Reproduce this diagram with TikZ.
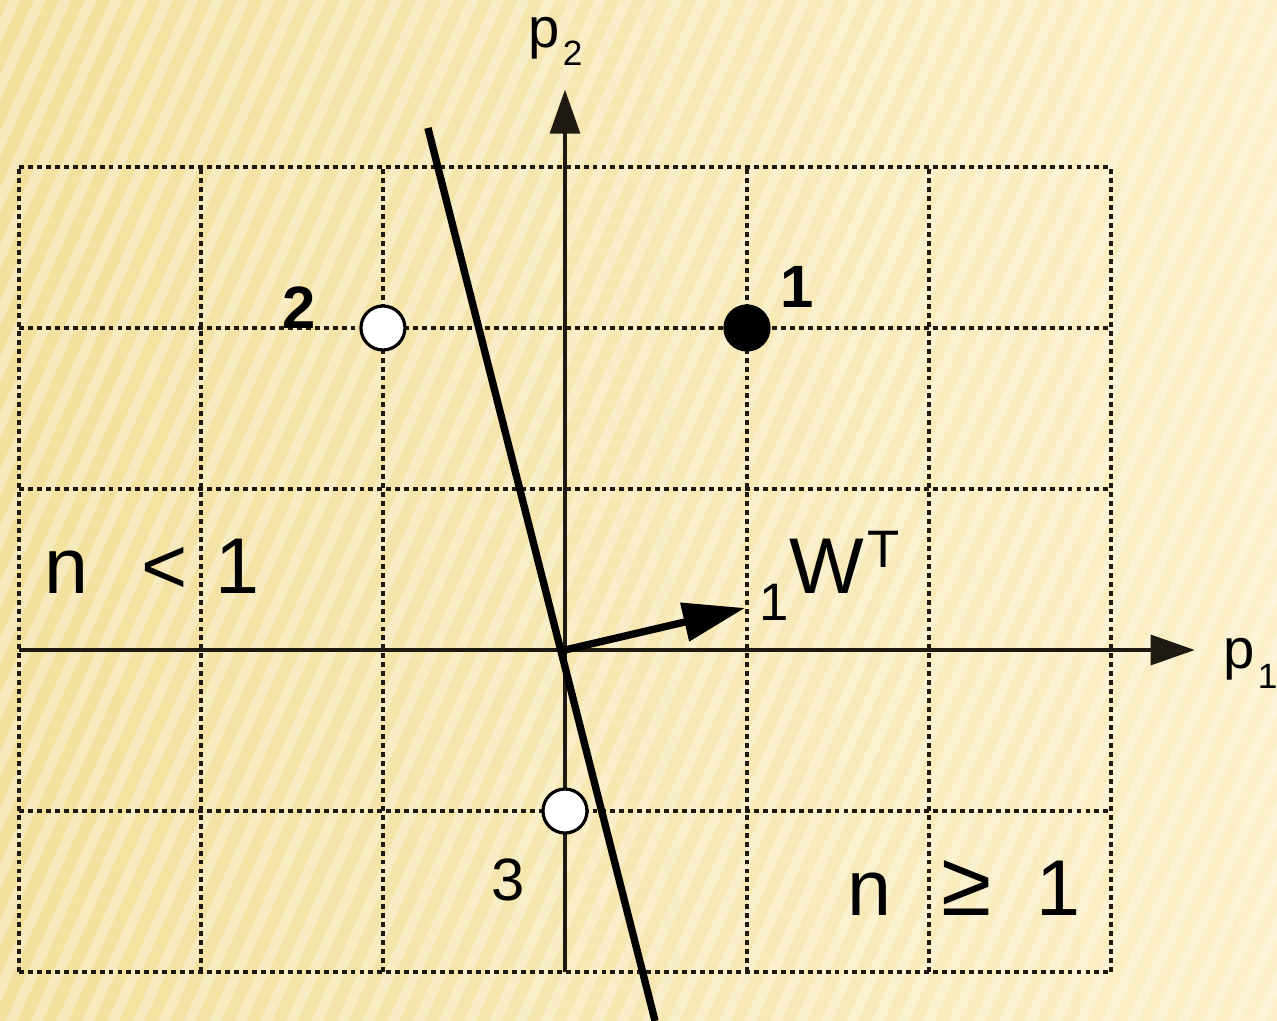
\documentclass[tikz,border=0pt]{standalone}
\usepackage{fontspec}
\setmainfont{Liberation Sans}
\usetikzlibrary{calc,arrows.meta}
\definecolor{paperdark}{RGB}{243,224,158}
\definecolor{paperlight}{RGB}{251,240,200}
\definecolor{ink}{RGB}{30,26,18}

\begin{document}
\begin{tikzpicture}[x=1.82cm,y=1.61cm,
		gridline/.style={ink,line width=1pt,dash pattern=on 1.4pt off 1.15pt},
		axis/.style={ink,line width=0.9pt,-{Triangle[length=0.44cm,width=0.3cm]}},
		thickline/.style={black,line width=2.1pt},
		openpt/.style={circle,draw=black,line width=0.9pt,fill=white,minimum size=0.44cm,inner sep=0pt},
		fillpt/.style={openpt,fill=black},
		bigtxt/.style={inner sep=0pt,anchor=base west,font=\fontsize{22.5}{24}\selectfont},
		axtxt/.style={inner sep=0pt,anchor=base west,font=\fontsize{16}{18}\selectfont},
		ptlabel/.style={inner sep=0pt,font=\bfseries\fontsize{17}{18}\selectfont}]
		\useasboundingbox (-3.104,-2.304) rectangle (3.912,4.037);
		% paper background
		\shade[left color=paperdark,right color=paperlight] (-3.104,-2.304) rectangle (3.912,4.037);
		\begin{scope}
			\clip (-3.104,-2.304) rectangle (3.912,4.037);
			\foreach \s in {-42,...,28}
				\draw[white,opacity=0.3,line width=3pt] (\s*0.14,-2.4) -- ++(2.6,6.5);
		\end{scope}
		\coordinate (O) at (0,0);
		\coordinate (X1) at (-3,0);
		\coordinate (X2) at (3.46,0);
		\coordinate (Y1) at (0,-2);
		\coordinate (Y2) at (0,3.48);
		\coordinate (L1) at (-0.753,3.242);
		\coordinate (L2) at (0.495,-2.304);
		\coordinate (W) at (0.989,0.261);
		% dotted grid
		\foreach \x in {-3,...,3}
			\draw[gridline] (\x,-2) -- (\x,3);
		\foreach \y in {-2,...,3}
			\draw[gridline] (-3,\y) -- (3,\y);
		\draw[axis] (X1) -- (X2);
		\draw[axis] (Y1) -- (Y2);
		\draw[thickline] (L1) -- (L2);
		\draw[thickline,-{Triangle[length=0.62cm,width=0.38cm]}] (O) -- (W);
		\node[fillpt] (P1) at (1,2) {};
		\node[openpt] (P2) at (-1,2) {};
		\node[openpt] (P3) at (0,-1) {};
		\node[ptlabel] (n1) at (1.275,2.255) {1};
		\node[ptlabel] (n2) at (-1.462,2.124) {2};
		\node[inner sep=0pt,font=\fontsize{17}{18}\selectfont] (n3) at (-0.313,-1.429) {3};
		\node[axtxt] (p2) at (-0.203,3.745) {p\hspace{0.03cm}\raisebox{-0.18cm}{\fontsize{10}{11}\selectfont 2}};
		\node[axtxt] (p1) at (3.615,-0.112) {p\hspace{0.03cm}\raisebox{-0.2cm}{\fontsize{10}{11}\selectfont 1}};
		\node[bigtxt] (wt) at (1.066,0.354) {\raisebox{-0.27cm}{\fontsize{15}{16}\selectfont 1}W\hspace{0.04cm}\raisebox{0.26cm}{\fontsize{15}{16}\selectfont T}};
		\node[bigtxt] (less) at (-2.863,0.354) {n\hspace{0.53cm}<\hspace{0.28cm}1};
		\node[bigtxt] (geq) at (1.549,-1.652) {n\hspace{0.5cm}{\fontsize{26}{26}\selectfont ≥}\hspace{0.45cm}1};
	\end{tikzpicture}
\end{document}
